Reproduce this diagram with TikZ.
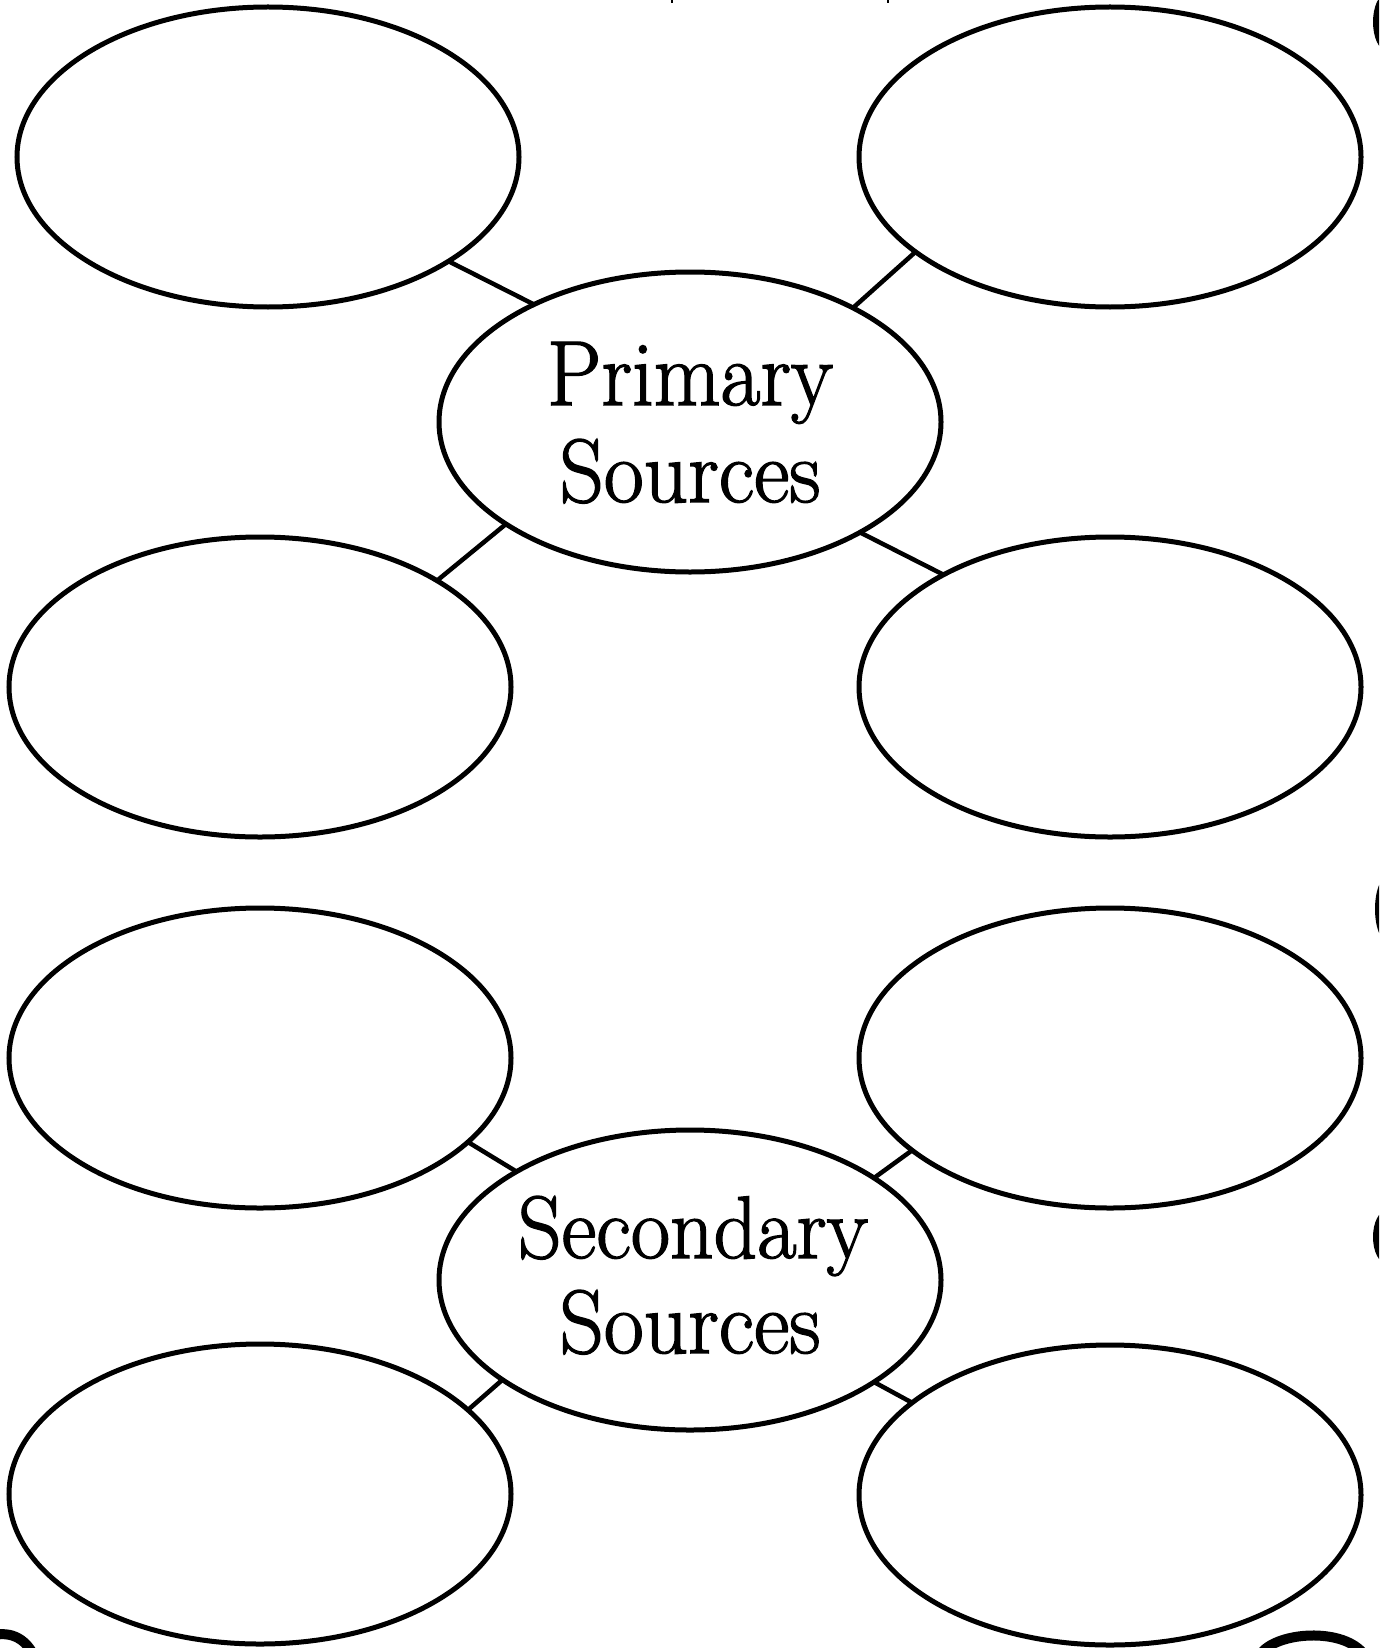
\documentclass[tikz,border=0pt]{standalone}
\usepackage{fontspec}
\newfontfamily\titlefont[FakeBold=1.6]{Latin Modern Roman}
\usetikzlibrary{shapes.geometric}
\tikzset{
  bubble/.style={ellipse, draw=black, line width=5pt, minimum width=502pt, minimum height=300pt, inner sep=0pt, outer sep=0pt},
  link/.style={draw=black, line width=4.5pt},
  title/.style={anchor=base, inner sep=0pt, font=\titlefont\fontsize{90pt}{90pt}\selectfont},
  blob/.style={fill=black, draw=none}
}
\begin{document}
\begin{tikzpicture}[x=1pt,y=-1pt]
\clip (0,0) rectangle (1379,1648);
\fill[white] (0,0) rectangle (1379,1648);
% ellipses
\node[bubble] (tl) at (268,157) {};
\node[bubble] (tr) at (1110,157) {};
\node[bubble] (p) at (690,422) {};
\node[bubble] (ml) at (260,687) {};
\node[bubble] (mr) at (1110,687) {};
\node[bubble] (l1) at (260,1058) {};
\node[bubble] (r1) at (1110,1058) {};
\node[bubble] (s) at (690,1280) {};
\node[bubble] (l2) at (260,1494) {};
\node[bubble] (r2) at (1110,1495) {};
% connectors
\draw[link] (tl.-30.7) -- (p.143);
\draw[link] (tr.206) -- (p.35);
\draw[link] (ml.31.5) -- (p.209);
\draw[link] (mr.146) -- (p.-33);
\draw[link] (l1.-22) -- (s.148);
\draw[link] (r1.205) -- (s.29);
\draw[link] (l2.22) -- (s.208);
\draw[link] (r2.155) -- (s.-29);
% texts
\node[title] (t1) at (690,405) {\resizebox{286pt}{63pt}{Primary}};
\node[title] (t2) at (690,502) {\resizebox{261pt}{63pt}{Sources}};
\node[title] (t3) at (693,1258) {\resizebox{350pt}{62pt}{Secondary}};
\node[title] (t4) at (690,1353) {\resizebox{261pt}{63pt}{Sources}};
% edge fragments
\fill[blob] (1386,22) ellipse [x radius=13pt, y radius=28pt];
\fill[blob] (1387,909) ellipse [x radius=12pt, y radius=32pt];
\fill[blob] (1386,1237) ellipse [x radius=13pt, y radius=26pt];
\fill[blob] (671,0) rectangle (673,3);
\fill[blob] (887,0) rectangle (889,3);
\draw[line width=10pt] (-20,1640) .. controls (0,1630) and (20,1632) .. (32,1652);
\draw[line width=10pt] (1262,1652) .. controls (1280,1632) and (1340,1628) .. (1362,1652);
\end{tikzpicture}
\end{document}
